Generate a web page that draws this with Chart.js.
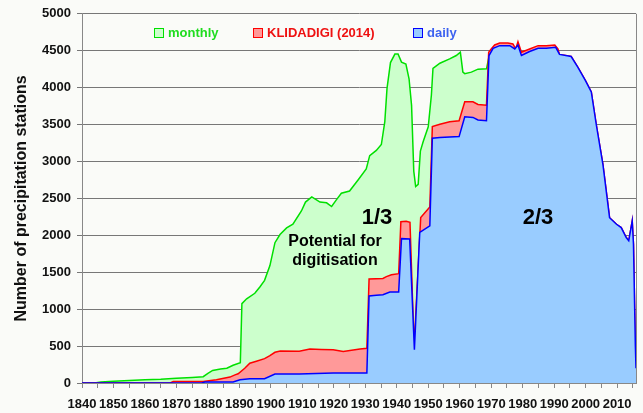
<!DOCTYPE html>
<html lang="en">
<head>
<meta charset="UTF-8">
<title>Precipitation stations</title>
<script src="https://cdn.jsdelivr.net/npm/chart.js"></script>
<style>
  html, body { margin: 0; padding: 0; background: #fafbf8; }
  .chartBox { width: 643px; height: 413px; }
</style>
</head>
<body>
<div class="chartBox"><canvas id="chart"></canvas></div>
<script>
// monthly stations
const monthlyYears = [1840, 1844, 1846, 1850, 1855, 1860, 1865, 1870, 1875, 1878.5, 1880, 1881.5, 1884, 1886, 1888, 1890.3,
  1890.8, 1892.3, 1894.9, 1896.5, 1898, 1899.7, 1901.3, 1902.9, 1905, 1907, 1909.7, 1911, 1913, 1915.6, 1917.7, 1919.3,
  1920.8, 1922.4, 1925, 1927.7, 1930.3, 1931.4, 1933.5, 1935.1, 1936.2, 1936.9, 1938, 1939.4, 1940.4, 1941.5, 1942.9,
  1943.9, 1944.7, 1945.4, 1946, 1946.8, 1947.5, 1948.4, 1950, 1951, 1951.5, 1953.7, 1956.8, 1958.9, 1960.2, 1961, 1961.6,
  1963.7, 1965.8, 1968.5, 1969.2];
const monthlyValues = [0, 0, 15, 25, 35, 45, 50, 65, 75, 85, 130, 170, 190, 200, 240, 275,
  1075, 1140, 1215, 1300, 1390, 1590, 1900, 2010, 2100, 2150, 2330, 2450, 2520, 2450, 2440, 2390,
  2480, 2570, 2600, 2750, 2900, 3080, 3150, 3230, 3540, 3990, 4340, 4455, 4455, 4345, 4320,
  4120, 3760, 2870, 2660, 2690, 3140, 3270, 3470, 3900, 4260, 4330, 4390, 4435, 4480, 4210, 4190,
  4210, 4250, 4255, 4400];

// KLIDADIGI (2014)
const klidYears = [1840, 1868, 1869, 1878.5, 1882.7, 1887, 1888.6, 1889.6, 1891.7, 1893.3, 1895.4, 1898, 1899.7, 1901.3,
  1903, 1909, 1912.4, 1916, 1919.8, 1923, 1928.3, 1930.5, 1931.2, 1935.6, 1936.7, 1938.3, 1940.6, 1941.3, 1943, 1944.2,
  1945.5, 1947.6, 1950.5, 1951.3, 1953.7, 1956.8, 1959.8, 1961.6, 1964.2, 1965.8, 1968.5, 1969.2, 1970, 1971.1, 1972.7,
  1975.3, 1976.9, 1977.8, 1978.5, 1979.6, 1982.2, 1984.9, 1987.5, 1990.2, 1991.2, 1991.7, 1995.4, 1997.5, 1999.9, 2001.8,
  2003.4, 2005.5, 2007.6, 2009.8, 2011.3, 2012.9, 2013.7, 2014.8, 2015.2, 2015.8, 2016];
const klidValues = [0, 0, 20, 20, 45, 80, 110, 125, 200, 268, 295, 330, 370, 416,
  434, 430, 460, 455, 450, 428, 460, 470, 1410, 1415, 1440, 1465, 1480, 2185, 2190, 2175,
  480, 2240, 2385, 3472, 3503, 3539, 3552, 3808, 3808, 3772, 3763, 4480, 4524, 4578, 4605,
  4605, 4591, 4524, 4623, 4480, 4524, 4569, 4569, 4578, 4524, 4450, 4422, 4278, 4099, 3942,
  3494, 2957, 2239, 2150, 2105, 1970, 1926, 2195, 1880, 500, 200];

// daily stations
const dailyYears = [1840, 1878, 1879, 1888, 1890.2, 1893.3, 1898, 1901.3, 1909, 1919.8, 1930.5, 1931.2, 1933.5, 1935.6,
  1937.8, 1940.6, 1941.5, 1944.1, 1945.6, 1947.3, 1950.5, 1951.3, 1953.7, 1959.8, 1961.6, 1964.2, 1965.8, 1968.5,
  1969.3, 1970.6, 1972.7, 1975.9, 1977.5, 1978.5, 1979.6, 1982.2, 1984.9, 1987.5, 1990.5, 1991.7, 1995.4, 1997.5, 1999.9,
  2001.8, 2003.4, 2005.5, 2007.6, 2009.8, 2011.3, 2012.9, 2013.7, 2014.8, 2015.2, 2015.8, 2016];
const dailyValues = [0, 0, 13, 13, 45, 58, 58, 121, 121, 134, 134, 1178, 1187, 1196,
  1231, 1231, 1955, 1950, 450, 2040, 2128, 3315, 3324, 3337, 3606, 3597, 3562, 3552,
  4435, 4533, 4569, 4569, 4524, 4578, 4435, 4489, 4533, 4533, 4546, 4450, 4422, 4278, 4099,
  3942, 3494, 2957, 2239, 2150, 2105, 1970, 1926, 2195, 1880, 500, 200];

const FONT = '"Liberation Sans", Arial, sans-serif';

function toPoints(xs, ys) {
  return xs.map((x, i) => ({ x: x, y: ys[i] }));
}

const legendColors = {
  'monthly': { text: '#1fdc1f', box: '#ccffcc', border: '#00e000' },
  'KLIDADIGI (2014)': { text: '#ee1111', box: '#ff9999', border: '#ff0000' },
  'daily': { text: '#3d62f0', box: '#99ccff', border: '#0000ff' }
};

const overlay = {
  id: 'overlay',
  afterDatasetsDraw(chart) {
    const ctx = chart.ctx;
    const a = chart.chartArea;
    ctx.save();
    ctx.strokeStyle = '#888';
    ctx.lineWidth = 1;
    ctx.beginPath();
    ctx.moveTo(Math.round(a.right) + 0.5, a.top);
    ctx.lineTo(Math.round(a.right) + 0.5, a.bottom);
    ctx.stroke();
    ctx.restore();
  },
  afterDraw(chart) {
    const ctx = chart.ctx;
    ctx.save();
    // legend inside the plot
    const items = [['monthly', 154], ['KLIDADIGI (2014)', 253], ['daily', 413]];
    ctx.font = 'bold 13px ' + FONT;
    ctx.textBaseline = 'middle';
    ctx.textAlign = 'left';
    items.forEach(([label, x]) => {
      const c = legendColors[label];
      ctx.fillStyle = c.box;
      ctx.fillRect(x, 28, 9, 9);
      ctx.strokeStyle = c.border;
      ctx.lineWidth = 1;
      ctx.strokeRect(x + 0.5, 28.5, 9, 9);
      ctx.fillStyle = c.text;
      ctx.fillText(label, x + 14, 33);
    });
    // annotations
    ctx.fillStyle = '#000';
    ctx.textAlign = 'center';
    ctx.font = 'bold 22px ' + FONT;
    ctx.fillText('1/3', 377, 218);
    ctx.fillText('2/3', 538, 218);
    ctx.font = 'bold 16px ' + FONT;
    ctx.fillText('Potential for', 335, 242);
    ctx.fillText('digitisation', 335, 261);
    ctx.restore();
  }
};

new Chart(document.getElementById('chart'), {
  type: 'line',
  data: {
    datasets: [
      {
        label: 'daily',
        data: toPoints(dailyYears, dailyValues),
        borderColor: '#0000ff',
        backgroundColor: '#99ccff',
        borderWidth: 1.5,
        fill: 'origin'
      },
      {
        label: 'KLIDADIGI (2014)',
        data: toPoints(klidYears, klidValues),
        borderColor: '#ff0000',
        backgroundColor: '#ff9999',
        borderWidth: 1.5,
        fill: 'origin'
      },
      {
        label: 'monthly',
        data: toPoints(monthlyYears, monthlyValues),
        borderColor: '#00e000',
        backgroundColor: '#ccffcc',
        borderWidth: 1.5,
        fill: 'origin'
      }
    ]
  },
  options: {
    responsive: true,
    maintainAspectRatio: false,
    animation: false,
    devicePixelRatio: 1,
    layout: { padding: { top: 11, right: 7, left: 0, bottom: 0 } },
    elements: { point: { radius: 0 }, line: { tension: 0 } },
    plugins: {
      legend: { display: false },
      tooltip: { enabled: false }
    },
    scales: {
      x: {
        type: 'linear',
        min: 1840,
        max: 2016,
        z: 1,
        afterFit: (s) => { s.height = 30; },
        afterBuildTicks: (s) => {
          const t = [];
          for (let v = 1840; v <= 2015; v += 5) t.push({ value: v });
          s.ticks = t;
        },
        ticks: {
          autoSkip: false,
          maxRotation: 0,
          padding: 9,
          color: '#111',
          font: { family: FONT, size: 13, weight: 'bold' },
          callback: (v) => (v % 10 === 0 ? String(v) : '')
        },
        grid: { drawOnChartArea: false, tickLength: 5, color: '#888' },
        border: { color: '#888' }
      },
      y: {
        min: 0,
        max: 5000,
        z: 1,
        afterFit: (s) => { s.width = 82; },
        ticks: {
          stepSize: 500,
          padding: 6,
          color: '#111',
          font: { family: FONT, size: 13, weight: 'bold' },
          callback: (v) => String(v)
        },
        grid: { tickLength: 5, color: '#777' },
        border: { color: '#888' },
        title: {
          display: true,
          text: 'Number of precipitation stations',
          color: '#111',
          font: { family: FONT, size: 16, weight: 'bold' },
          padding: { top: 12, bottom: 0 }
        }
      }
    }
  },
  plugins: [overlay]
});
</script>
</body>
</html>
